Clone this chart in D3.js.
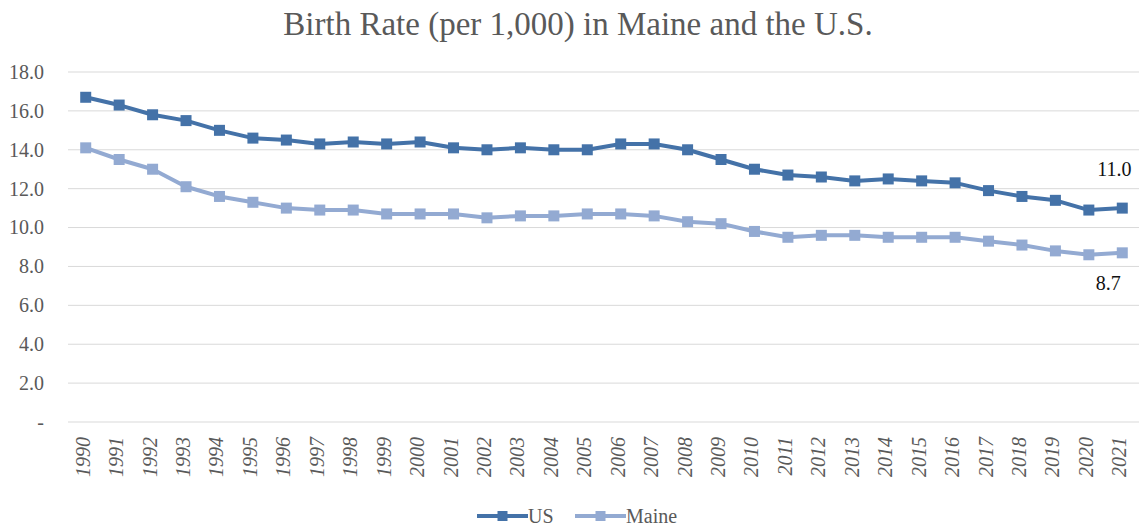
<!DOCTYPE html>
<html>
<head>
<meta charset="utf-8">
<script src="https://cdn.jsdelivr.net/npm/d3@7"></script>
<style>
  body { margin: 0; background: #fff; }
  svg text { font-family: "Liberation Serif", "Times New Roman", serif; }
</style>
</head>
<body>
<div id="chart"></div>
<script>
const years = d3.range(1990, 2022).map(String);
const usRates = [16.7, 16.3, 15.8, 15.5, 15.0, 14.6, 14.5, 14.3, 14.4, 14.3, 14.4, 14.1, 14.0, 14.1, 14.0, 14.0,
                 14.3, 14.3, 14.0, 13.5, 13.0, 12.7, 12.6, 12.4, 12.5, 12.4, 12.3, 11.9, 11.6, 11.4, 10.9, 11.0];
const maineRates = [14.1, 13.5, 13.0, 12.1, 11.6, 11.3, 11.0, 10.9, 10.9, 10.7, 10.7, 10.7, 10.5, 10.6, 10.6, 10.7,
                    10.7, 10.6, 10.3, 10.2, 9.8, 9.5, 9.6, 9.6, 9.5, 9.5, 9.5, 9.3, 9.1, 8.8, 8.6, 8.7];
const yTicks = [0, 2, 4, 6, 8, 10, 12, 14, 16, 18];

const W = 1139, H = 527;
const margin = {left: 69, right: 0, top: 72, bottom: 105};
const width = W - margin.left - margin.right,
      height = H - margin.top - margin.bottom;

const serif = "'Liberation Serif', 'Times New Roman', serif";

const series = [
  {name: "US", values: usRates, color: "#4472a8"},
  {name: "Maine", values: maineRates, color: "#93aad2"}
];

const svg = d3.select("#chart").append("svg")
  .attr("width", W).attr("height", H);

svg.append("text")
  .attr("x", 578).attr("y", 35)
  .attr("text-anchor", "middle")
  .style("font-family", serif)
  .attr("font-size", "33px")
  .attr("fill", "#595959")
  .text("Birth Rate (per 1,000) in Maine and the U.S.");

const g = svg.append("g")
  .attr("transform", "translate(" + margin.left + "," + margin.top + ")");

const x = d3.scaleBand().domain(years).range([0, width]);
const y = d3.scaleLinear().domain([0, 18]).range([height, 0]);

// gridlines
g.append("g")
  .selectAll("line")
  .data(yTicks)
  .join("line")
    .attr("x1", -1).attr("x2", width)
    .attr("y1", d => y(d)).attr("y2", d => y(d))
    .attr("stroke", "#d9d9d9").attr("stroke-width", 1);

// y axis labels
const yAxis = g.append("g")
  .call(d3.axisLeft(y).tickValues(yTicks).tickSize(0).tickPadding(25)
    .tickFormat(d => d === 0 ? "-" : d3.format(".1f")(d)));
yAxis.select(".domain").remove();
yAxis.selectAll("text")
  .style("font-family", serif)
  .attr("font-size", "20px")
  .attr("fill", "#595959");

// x axis labels
const xAxis = g.append("g")
  .attr("transform", "translate(0," + height + ")")
  .call(d3.axisBottom(x).tickSize(0));
xAxis.select(".domain").remove();
xAxis.selectAll("text")
  .style("font-family", serif)
  .attr("font-size", "20px")
  .attr("font-style", "italic")
  .attr("fill", "#595959")
  .attr("text-anchor", "end")
  .attr("dy", "0.3em")
  .attr("x", -15)
  .attr("y", -2)
  .attr("transform", "rotate(-90)");

const line = d3.line()
  .x((d, i) => x(years[i]) + x.bandwidth() / 2)
  .y(d => y(d));

series.slice().reverse().forEach(s => {
  g.append("path")
    .datum(s.values)
    .attr("fill", "none")
    .attr("stroke", s.color)
    .attr("stroke-width", 4)
    .attr("stroke-linejoin", "round")
    .attr("d", line);
  g.append("g")
    .selectAll("rect")
    .data(s.values)
    .join("rect")
      .attr("x", (d, i) => x(years[i]) + x.bandwidth() / 2 - 5.5)
      .attr("y", d => y(d) - 5.5)
      .attr("width", 11).attr("height", 11)
      .attr("fill", s.color);
});

// end labels
const last = years.length - 1;
const lastX = x(years[last]) + x.bandwidth() / 2;
g.append("text")
  .attr("x", lastX - 8)
  .attr("y", y(usRates[last]) - 32)
  .attr("text-anchor", "middle")
  .style("font-family", serif)
  .attr("font-size", "20px")
  .attr("fill", "#111")
  .text(d3.format(".1f")(usRates[last]));
g.append("text")
  .attr("x", lastX - 14)
  .attr("y", y(maineRates[last]) + 37)
  .attr("text-anchor", "middle")
  .style("font-family", serif)
  .attr("font-size", "20px")
  .attr("fill", "#111")
  .text(d3.format(".1f")(maineRates[last]));

// legend
const legend = svg.append("g").attr("transform", "translate(477,516)");
const legX = [0, 98];
series.forEach((s, i) => {
  const lg = legend.append("g").attr("transform", "translate(" + legX[i] + ",0)");
  lg.append("line").attr("x1", 0).attr("x2", 51).attr("y1", 0).attr("y2", 0)
    .attr("stroke", s.color).attr("stroke-width", 4);
  lg.append("rect").attr("x", 20.5).attr("y", -5).attr("width", 10).attr("height", 10)
    .attr("fill", s.color);
  lg.append("text").attr("x", 51).attr("y", 6.5)
    .style("font-family", serif)
    .attr("font-size", "20px").attr("fill", "#595959").text(s.name);
});
</script>
</body>
</html>
